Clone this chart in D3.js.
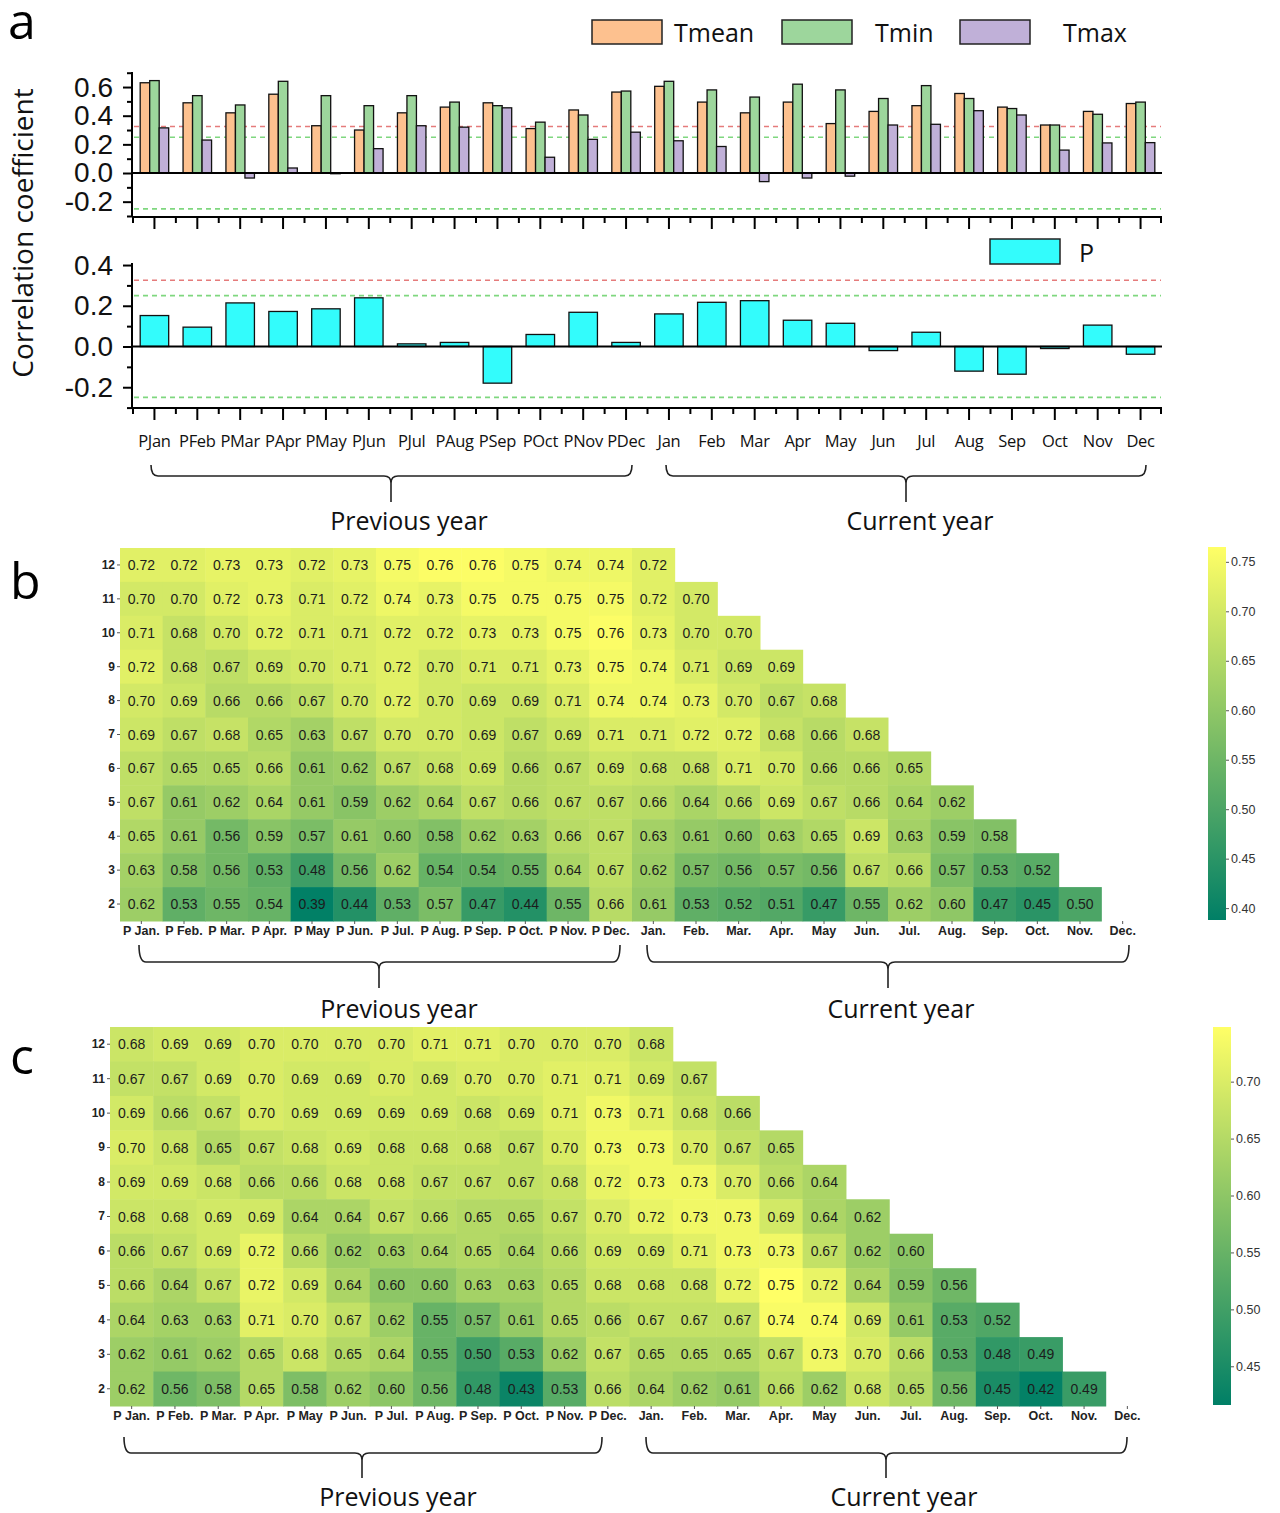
<!DOCTYPE html>
<html>
<head>
<meta charset="utf-8">
<script src="https://cdn.jsdelivr.net/npm/d3@7/dist/d3.min.js"></script>
<style>
  body { margin: 0; background: #fff; }
  text { font-family: "Liberation Sans", Arial, sans-serif; }
</style>
</head>
<body>
<svg id="fig" width="1280" height="1513"></svg>
<script>
// ---- panel a data ----
var monthsA = ['PJan', 'PFeb', 'PMar', 'PApr', 'PMay', 'PJun', 'PJul', 'PAug', 'PSep', 'POct', 'PNov', 'PDec',
               'Jan', 'Feb', 'Mar', 'Apr', 'May', 'Jun', 'Jul', 'Aug', 'Sep', 'Oct', 'Nov', 'Dec'];
var tmean = [0.63, 0.49, 0.42, 0.55, 0.33, 0.30, 0.42, 0.46, 0.49, 0.31, 0.44, 0.565,
             0.605, 0.495, 0.42, 0.495, 0.345, 0.43, 0.47, 0.555, 0.46, 0.335, 0.43, 0.485];
var tmin  = [0.645, 0.54, 0.475, 0.64, 0.54, 0.47, 0.54, 0.495, 0.47, 0.355, 0.405, 0.572,
             0.64, 0.58, 0.53, 0.62, 0.58, 0.52, 0.61, 0.52, 0.45, 0.335, 0.41, 0.495];
var tmax  = [0.315, 0.23, -0.035, 0.035, -0.005, 0.17, 0.33, 0.32, 0.455, 0.11, 0.235, 0.285,
             0.225, 0.185, -0.06, -0.035, -0.022, 0.335, 0.34, 0.435, 0.405, 0.16, 0.21, 0.212];
var precip = [0.152, 0.095, 0.214, 0.172, 0.185, 0.239, 0.013, 0.02, -0.18, 0.059, 0.168, 0.02,
              0.16, 0.217, 0.225, 0.129, 0.114, -0.02, 0.07, -0.121, -0.136, -0.01, 0.105, -0.038];
var tSeries = ['Tmean', 'Tmin', 'Tmax'];
var tColors = ['#fdc18f', '#9dd69c', '#c0b0d8'];
var pColor = '#33fcfc';
var sigLines = [{ v: 0.325, c: '#e57b7b' }, { v: 0.25, c: '#7fd77f' }, { v: -0.25, c: '#7fd77f' }];

// ---- heatmap data (rows 12 .. 2, columns P Jan. .. Dec.) ----
var heatRows = [12, 11, 10, 9, 8, 7, 6, 5, 4, 3, 2];
var heatCols = ['P Jan.', 'P Feb.', 'P Mar.', 'P Apr.', 'P May', 'P Jun.', 'P Jul.', 'P Aug.', 'P Sep.', 'P Oct.', 'P Nov.', 'P Dec.',
                'Jan.', 'Feb.', 'Mar.', 'Apr.', 'May', 'Jun.', 'Jul.', 'Aug.', 'Sep.', 'Oct.', 'Nov.', 'Dec.'];
var heatB = [
  [0.72, 0.72, 0.73, 0.73, 0.72, 0.73, 0.75, 0.76, 0.76, 0.75, 0.74, 0.74, 0.72],
  [0.70, 0.70, 0.72, 0.73, 0.71, 0.72, 0.74, 0.73, 0.75, 0.75, 0.75, 0.75, 0.72, 0.70],
  [0.71, 0.68, 0.70, 0.72, 0.71, 0.71, 0.72, 0.72, 0.73, 0.73, 0.75, 0.76, 0.73, 0.70, 0.70],
  [0.72, 0.68, 0.67, 0.69, 0.70, 0.71, 0.72, 0.70, 0.71, 0.71, 0.73, 0.75, 0.74, 0.71, 0.69, 0.69],
  [0.70, 0.69, 0.66, 0.66, 0.67, 0.70, 0.72, 0.70, 0.69, 0.69, 0.71, 0.74, 0.74, 0.73, 0.70, 0.67, 0.68],
  [0.69, 0.67, 0.68, 0.65, 0.63, 0.67, 0.70, 0.70, 0.69, 0.67, 0.69, 0.71, 0.71, 0.72, 0.72, 0.68, 0.66, 0.68],
  [0.67, 0.65, 0.65, 0.66, 0.61, 0.62, 0.67, 0.68, 0.69, 0.66, 0.67, 0.69, 0.68, 0.68, 0.71, 0.70, 0.66, 0.66, 0.65],
  [0.67, 0.61, 0.62, 0.64, 0.61, 0.59, 0.62, 0.64, 0.67, 0.66, 0.67, 0.67, 0.66, 0.64, 0.66, 0.69, 0.67, 0.66, 0.64, 0.62],
  [0.65, 0.61, 0.56, 0.59, 0.57, 0.61, 0.60, 0.58, 0.62, 0.63, 0.66, 0.67, 0.63, 0.61, 0.60, 0.63, 0.65, 0.69, 0.63, 0.59, 0.58],
  [0.63, 0.58, 0.56, 0.53, 0.48, 0.56, 0.62, 0.54, 0.54, 0.55, 0.64, 0.67, 0.62, 0.57, 0.56, 0.57, 0.56, 0.67, 0.66, 0.57, 0.53, 0.52],
  [0.62, 0.53, 0.55, 0.54, 0.39, 0.44, 0.53, 0.57, 0.47, 0.44, 0.55, 0.66, 0.61, 0.53, 0.52, 0.51, 0.47, 0.55, 0.62, 0.60, 0.47, 0.45, 0.50]
];
var heatC = [
  [0.68, 0.69, 0.69, 0.70, 0.70, 0.70, 0.70, 0.71, 0.71, 0.70, 0.70, 0.70, 0.68],
  [0.67, 0.67, 0.69, 0.70, 0.69, 0.69, 0.70, 0.69, 0.70, 0.70, 0.71, 0.71, 0.69, 0.67],
  [0.69, 0.66, 0.67, 0.70, 0.69, 0.69, 0.69, 0.69, 0.68, 0.69, 0.71, 0.73, 0.71, 0.68, 0.66],
  [0.70, 0.68, 0.65, 0.67, 0.68, 0.69, 0.68, 0.68, 0.68, 0.67, 0.70, 0.73, 0.73, 0.70, 0.67, 0.65],
  [0.69, 0.69, 0.68, 0.66, 0.66, 0.68, 0.68, 0.67, 0.67, 0.67, 0.68, 0.72, 0.73, 0.73, 0.70, 0.66, 0.64],
  [0.68, 0.68, 0.69, 0.69, 0.64, 0.64, 0.67, 0.66, 0.65, 0.65, 0.67, 0.70, 0.72, 0.73, 0.73, 0.69, 0.64, 0.62],
  [0.66, 0.67, 0.69, 0.72, 0.66, 0.62, 0.63, 0.64, 0.65, 0.64, 0.66, 0.69, 0.69, 0.71, 0.73, 0.73, 0.67, 0.62, 0.60],
  [0.66, 0.64, 0.67, 0.72, 0.69, 0.64, 0.60, 0.60, 0.63, 0.63, 0.65, 0.68, 0.68, 0.68, 0.72, 0.75, 0.72, 0.64, 0.59, 0.56],
  [0.64, 0.63, 0.63, 0.71, 0.70, 0.67, 0.62, 0.55, 0.57, 0.61, 0.65, 0.66, 0.67, 0.67, 0.67, 0.74, 0.74, 0.69, 0.61, 0.53, 0.52],
  [0.62, 0.61, 0.62, 0.65, 0.68, 0.65, 0.64, 0.55, 0.50, 0.53, 0.62, 0.67, 0.65, 0.65, 0.65, 0.67, 0.73, 0.70, 0.66, 0.53, 0.48, 0.49],
  [0.62, 0.56, 0.58, 0.65, 0.58, 0.62, 0.60, 0.56, 0.48, 0.43, 0.53, 0.66, 0.64, 0.62, 0.61, 0.66, 0.62, 0.68, 0.65, 0.56, 0.45, 0.42, 0.49]
];
var ticksB = [0.40, 0.45, 0.50, 0.55, 0.60, 0.65, 0.70, 0.75];
var ticksC = [0.45, 0.50, 0.55, 0.60, 0.65, 0.70];

var svg = d3.select('#fig');
var sans = '"Open Sans", "Noto Sans", sans-serif';
var summer = d3.interpolateRgb('#007f66', '#ffff66');

function panelLetter (txt, x, y, size)	{
	svg.append('text').attr('x', x).attr('y', y)
		 .style('font-family', sans).style('font-size', size + 'px')
		 .text(txt);
}

function brace (x1, x2, xm, yTop, yMid, yTip)	{
	var r = 7;
	var p = 'M' + x1 + ',' + yTop + ' Q' + x1 + ',' + yMid + ' ' + (x1 + r) + ',' + yMid +
					' L' + (xm - r) + ',' + yMid + ' Q' + xm + ',' + yMid + ' ' + xm + ',' + (yMid + r) +
					' L' + xm + ',' + yTip +
					' M' + xm + ',' + (yMid + r) + ' Q' + xm + ',' + yMid + ' ' + (xm + r) + ',' + yMid +
					' L' + (x2 - r) + ',' + yMid + ' Q' + x2 + ',' + yMid + ' ' + x2 + ',' + yTop;
	svg.append('path').attr('d', p)
		 .style('fill', 'none').style('stroke', '#222').style('stroke-width', 1.6);
}

function braceLabel (txt, x, y)	{
	svg.append('text').attr('x', x).attr('y', y)
		 .attr('text-anchor', 'middle')
		 .style('font-family', sans).style('font-size', '25px').style('fill', '#111')
		 .text(txt);
}

// =================== panel a ===================
var xA = d3.scaleBand().domain(monthsA).range([133, 1162]);
var yTop = d3.scaleLinear().domain([-0.307, 0.705]).range([217, 72]);
var yBot = d3.scaleLinear().domain([-0.302, 0.41]).range([408, 263]);
var groupW = 28.5;
var xSub = d3.scaleBand().domain(tSeries).range([0, groupW]);

function drawYAxis (y, major, minor)	{
	var g = svg.append('g').attr('transform', 'translate(132,0)');
	g.call(d3.axisLeft(y).tickValues(major).tickSize(9).tickPadding(10)
					 .tickFormat(function (d) { return d.toFixed(1); }));
	g.append('g').call(d3.axisLeft(y).tickValues(minor).tickSize(5).tickFormat(''));
	g.selectAll('path.domain').remove();
	g.append('line').attr('x1', 0).attr('x2', 0)
	 .attr('y1', y.range()[1]).attr('y2', y.range()[0]);
	g.selectAll('line').style('stroke', '#000').style('stroke-width', 2);
	g.selectAll('text').style('font-size', '28px').style('fill', '#111');
	return g;
}

function drawXAxis (yPos)	{
	var g = svg.append('g').attr('transform', 'translate(0,' + yPos + ')');
	g.append('line').attr('x1', 132).attr('x2', 1162);
	g.selectAll('line.maj').data(monthsA).enter().append('line').attr('class', 'maj')
	 .attr('x1', function (d) { return xA(d) + xA.bandwidth() / 2; })
	 .attr('x2', function (d) { return xA(d) + xA.bandwidth() / 2; })
	 .attr('y1', 0).attr('y2', 12);
	g.selectAll('line.mnr').data(monthsA).enter().append('line').attr('class', 'mnr')
	 .attr('x1', function (d) { return xA(d); })
	 .attr('x2', function (d) { return xA(d); })
	 .attr('y1', 0).attr('y2', 6);
	g.append('line').attr('x1', 1161).attr('x2', 1161).attr('y1', 0).attr('y2', 6);
	g.selectAll('line').style('stroke', '#000').style('stroke-width', 2);
	return g;
}

function sigLinesFor (y)	{
	sigLines.forEach(function (s)	{
		svg.append('line')
			 .attr('x1', 134).attr('x2', 1161)
			 .attr('y1', y(s.v)).attr('y2', y(s.v))
			 .style('stroke', s.c).style('stroke-width', 1.6)
			 .style('stroke-dasharray', '5,4');
	});
}

// top: temperature
sigLinesFor(yTop);
var tData = monthsA.map(function (m, i)	{
	return { m: m, vals: [tmean[i], tmin[i], tmax[i]] };
});
var groups = svg.append('g').selectAll('g').data(tData).enter().append('g')
	.attr('transform', function (d)	{
		return 'translate(' + (xA(d.m) + (xA.bandwidth() - groupW) / 2) + ',0)';
	});
groups.selectAll('rect').data(function (d) { return d.vals; }).enter().append('rect')
	.attr('x', function (d, i) { return xSub(tSeries[i]); })
	.attr('width', xSub.bandwidth())
	.attr('y', function (d) { return yTop(Math.max(0, d)); })
	.attr('height', function (d) { return Math.abs(yTop(d) - yTop(0)); })
	.style('fill', function (d, i) { return tColors[i]; })
	.style('stroke', '#111').style('stroke-width', 1.3);
svg.append('line').attr('x1', 132).attr('x2', 1162)
	 .attr('y1', yTop(0)).attr('y2', yTop(0))
	 .style('stroke', '#000').style('stroke-width', 2.2);
drawYAxis(yTop, [-0.2, 0, 0.2, 0.4, 0.6], [-0.3, -0.1, 0.1, 0.3, 0.5, 0.7]);
drawXAxis(217);

// bottom: precipitation
sigLinesFor(yBot);
svg.append('g').selectAll('rect').data(precip).enter().append('rect')
	.attr('x', function (d, i) { return xA(monthsA[i]) + (xA.bandwidth() - groupW) / 2; })
	.attr('width', groupW)
	.attr('y', function (d) { return yBot(Math.max(0, d)); })
	.attr('height', function (d) { return Math.abs(yBot(d) - yBot(0)); })
	.style('fill', pColor).style('stroke', '#111').style('stroke-width', 1.3);
svg.append('line').attr('x1', 132).attr('x2', 1162)
	 .attr('y1', yBot(0)).attr('y2', yBot(0))
	 .style('stroke', '#000').style('stroke-width', 2.2);
drawYAxis(yBot, [-0.2, 0, 0.2, 0.4], [-0.3, -0.1, 0.1, 0.3]);
var xg = drawXAxis(408);
xg.selectAll('text').data(monthsA).enter().append('text')
	.attr('x', function (d) { return xA(d) + xA.bandwidth() / 2; })
	.attr('y', 39)
	.attr('text-anchor', 'middle')
	.style('font-family', sans).style('font-size', '16.5px').style('fill', '#111')
	.style('letter-spacing', '-0.3px')
	.text(function (d) { return d; });

// legends
var legT = svg.append('g');
[592, 782, 960].forEach(function (x, i)	{
	legT.append('rect').attr('x', x).attr('y', 20).attr('width', 70).attr('height', 24)
			.style('fill', tColors[i]).style('stroke', '#222').style('stroke-width', 1.5);
});
[674, 875, 1063].forEach(function (x, i)	{
	legT.append('text').attr('x', x).attr('y', 42)
			.style('font-family', sans).style('font-size', '25px').style('fill', '#111')
			.text(tSeries[i]);
});
svg.append('rect').attr('x', 990).attr('y', 239).attr('width', 70).attr('height', 25)
	 .style('fill', pColor).style('stroke', '#222').style('stroke-width', 1.5);
svg.append('text').attr('x', 1079).attr('y', 262)
	 .style('font-family', sans).style('font-size', '25px').style('fill', '#111')
	 .text('P');

svg.append('text')
	 .attr('transform', 'translate(33,233) rotate(-90)')
	 .attr('text-anchor', 'middle')
	 .style('font-family', sans).style('font-size', '28px').style('fill', '#111')
	 .text('Correlation coefficient');

panelLetter('a', 8, 39, 50);
brace(151, 632, 391, 465, 476, 502);
brace(666, 1146, 906, 465, 476, 502);
braceLabel('Previous year', 409, 530);
braceLabel('Current year', 920, 530);

// =================== heatmaps ===================
function heatmap (rows, x0, x1, y0, y1, dom, cb, ticks)	{
	var x = d3.scaleBand().domain(heatCols).range([x0, x1]);
	var y = d3.scaleBand().domain(heatRows).range([y0, y1]);
	var color = d3.scaleSequential(summer).domain(dom);
	var g = svg.append('g');

	var cells = [];
	rows.forEach(function (row, r)	{
		row.forEach(function (v, c)	{
			cells.push({ r: heatRows[r], c: heatCols[c], v: v });
		});
	});

	g.selectAll('rect').data(cells).enter().append('rect')
	 .attr('x', function (d) { return x(d.c); })
	 .attr('y', function (d) { return y(d.r); })
	 .attr('width', x.bandwidth() + 0.5)
	 .attr('height', y.bandwidth() + 0.5)
	 .style('fill', function (d) { return color(d.v); });

	g.selectAll('text.val').data(cells).enter().append('text').attr('class', 'val')
	 .attr('x', function (d) { return x(d.c) + x.bandwidth() / 2; })
	 .attr('y', function (d) { return y(d.r) + y.bandwidth() / 2; })
	 .attr('dy', '0.36em')
	 .attr('text-anchor', 'middle')
	 .style('font-size', '14px').style('fill', '#1c1c1c')
	 .text(function (d) { return d.v.toFixed(2); });

	var ax = g.append('g').attr('transform', 'translate(0,' + y1 + ')')
						.call(d3.axisBottom(x).tickSize(3).tickPadding(2));
	ax.selectAll('text').style('font-size', '12.5px').style('font-weight', 'bold').style('fill', '#222');
	var ay = g.append('g').attr('transform', 'translate(' + x0 + ',0)')
						.call(d3.axisLeft(y).tickSize(3).tickPadding(2));
	ay.selectAll('text').style('font-size', '12px').style('font-weight', 'bold').style('fill', '#222');
	g.selectAll('path.domain').remove();
	g.selectAll('.tick line').style('stroke', '#555');

	// colour bar
	var id = 'grad' + Math.round(y0);
	var grad = svg.append('defs').append('linearGradient').attr('id', id)
								.attr('x1', 0).attr('y1', 1).attr('x2', 0).attr('y2', 0);
	d3.range(0, 1.01, 0.1).forEach(function (t)	{
		grad.append('stop').attr('offset', t).attr('stop-color', summer(t));
	});
	svg.append('rect').attr('x', cb.x).attr('y', cb.y0)
		 .attr('width', cb.w).attr('height', cb.y1 - cb.y0)
		 .style('fill', 'url(#' + id + ')');
	var cy = d3.scaleLinear().domain(dom).range([cb.y1, cb.y0]);
	var ac = svg.append('g').attr('transform', 'translate(' + (cb.x + cb.w) + ',0)')
							.call(d3.axisRight(cy).tickValues(ticks).tickSize(3).tickPadding(2)
											.tickFormat(d3.format('.2f')));
	ac.select('path.domain').remove();
	ac.selectAll('line').style('stroke', '#555');
	ac.selectAll('text').style('font-size', '12.5px').style('fill', '#333');
}

heatmap(heatB, 120, 1144, 548, 921, [0.388, 0.765],
				{ x: 1208, w: 18, y0: 547, y1: 920 }, ticksB);
panelLetter('b', 10, 599, 50);
brace(139, 620, 379, 945, 962, 988);
brace(647, 1129, 888, 945, 962, 988);
braceLabel('Previous year', 399, 1018);
braceLabel('Current year', 901, 1018);

heatmap(heatC, 110, 1149, 1027, 1406, [0.416, 0.748],
				{ x: 1213, w: 18, y0: 1027, y1: 1405 }, ticksC);
panelLetter('c', 10, 1074, 50);
brace(124, 602, 362, 1437, 1453, 1478);
brace(646, 1127, 886, 1437, 1453, 1478);
braceLabel('Previous year', 398, 1506);
braceLabel('Current year', 904, 1506);
</script>
</body>
</html>
